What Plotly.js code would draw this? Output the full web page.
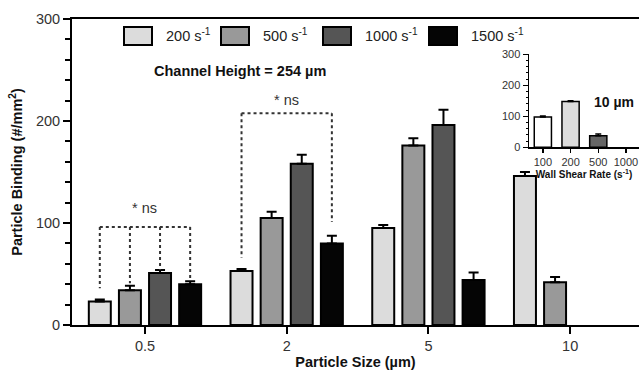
<!DOCTYPE html>
<html><head><meta charset="utf-8">
<script src="https://cdn.plot.ly/plotly-3.0.1.min.js"></script>
<style>html,body{margin:0;padding:0;background:#fff}#chart{width:639px;height:370px}</style>
</head><body><div id="chart"></div>
<script>
// ---- data ----
const particleSizes = ['0.5', '2', '5', '10'];
const seriesNames = ['200 s<sup>-1</sup>', '500 s<sup>-1</sup>', '1000 s<sup>-1</sup>', '1500 s<sup>-1</sup>'];
const binding200 = [23, 53, 95, 146];
const err200 = [2, 2, 3, 4];
const binding500 = [34, 105, 176, 42];
const err500 = [4.5, 6, 7, 5];
const binding1000 = [51, 158, 196, null];
const err1000 = [3, 9, 15, null];
const binding1500 = [40, 80, 44, null];
const err1500 = [3, 7.5, 7.5, null];
const seriesColors = ['#dcdcdc', '#999999', '#555555', '#050505'];

const insetRates = ['100', '200', '500', '1000'];
const insetBinding = [98, 148, 37, null];
const insetErr = [3, 2, 6, null];
const insetColors = ['#ffffff', '#dcdcdc', '#666666', '#666666'];

// ---- build ----
const FONT = 'Liberation Sans, Arial, Helvetica, sans-serif';
const bargap = 0.15, bargroupgap = 0.27;
const values = [binding200, binding500, binding1000, binding1500];
const errs = [err200, err500, err1000, err1500];

const traces = values.map((v, i) => ({
  type: 'bar', x: particleSizes, y: v, name: seriesNames[i],
  xaxis: 'x', yaxis: 'y', showlegend: false,
  marker: {color: seriesColors[i], line: {color: '#000', width: 2}},
  error_y: {type: 'data', symmetric: false, array: errs[i], arrayminus: errs[i].map(() => 0),
            color: '#000', thickness: 2, width: 5}
}));
traces.push({
  type: 'bar', x: insetRates, y: insetBinding, xaxis: 'x2', yaxis: 'y2', showlegend: false,
  marker: {color: insetColors, line: {color: '#000', width: 1.5}},
  error_y: {type: 'data', symmetric: false, array: insetErr, arrayminus: insetErr.map(() => 0),
            color: '#000', thickness: 1.5, width: 3}
});

// bar centre offsets within a group
const slot = (1 - bargap) / values.length;
const offs = values.map((_, i) => -(1 - bargap) / 2 + slot * (i + 0.5));

const dot = {color: '#333', width: 2, dash: 'dot'};
const shapes = [];
function bracket(g, top, bottoms) {
  const xs = bottoms.map(b => g + offs[b[0]]);
  shapes.push({type: 'line', xref: 'x', yref: 'y', x0: xs[0], x1: xs[xs.length - 1], y0: top, y1: top, line: dot});
  bottoms.forEach((b, k) => shapes.push({type: 'line', xref: 'x', yref: 'y', x0: xs[k], x1: xs[k], y0: top, y1: b[1], line: dot}));
}
bracket(0, 96, [[0, 36], [1, 41], [2, 54], [3, 44]]);
bracket(1, 207.5, [[0, 66], [3, 101]]);

const annotations = [
  {xref: 'x', yref: 'y', x: 0, y: 115, text: '* ns', showarrow: false, xanchor: 'center', yanchor: 'middle',
   font: {family: FONT, size: 14.5, color: '#333'}},
  {xref: 'x', yref: 'y', x: 1, y: 221, text: '* ns', showarrow: false, xanchor: 'center', yanchor: 'middle',
   font: {family: FONT, size: 14.5, color: '#333'}},
  {xref: 'paper', yref: 'paper', x: 0.296, y: 0.830, text: '<b>Channel Height = 254 µm</b>', showarrow: false,
   xanchor: 'center', yanchor: 'middle', font: {family: FONT, size: 14.5, color: '#111'}},
  {xref: 'paper', yref: 'paper', x: 0.956, y: 0.729, text: '<b>10 µm</b>', showarrow: false,
   xanchor: 'center', yanchor: 'middle', font: {family: FONT, size: 14, color: '#111'}}
];

// legend drawn as boxes + labels
const legX = [124, 221, 323, 429];
seriesNames.forEach((n, i) => {
  const x0 = (legX[i] - 72) / 567;
  shapes.push({type: 'rect', xref: 'paper', yref: 'paper', x0: x0, x1: x0 + 28 / 567,
    y0: (325 - 45) / 306, y1: (325 - 27) / 306, fillcolor: seriesColors[i], line: {color: '#000', width: 2}});
  annotations.push({xref: 'paper', yref: 'paper', x: x0 + 40 / 567, y: (325 - 35) / 306, xanchor: 'left', yanchor: 'middle',
    text: n, showarrow: false, font: {family: FONT, size: 14.5, color: '#222'}});
});

const layout = {
  width: 639, height: 370,
  margin: {l: 72, r: 0, t: 19, b: 45},
  paper_bgcolor: '#fff', plot_bgcolor: 'rgba(0,0,0,0)',
  barmode: 'group', bargap: bargap, bargroupgap: bargroupgap,
  font: {family: FONT, color: '#333'},
  xaxis: {type: 'category', range: [-0.515, 3.486], showgrid: false, zeroline: false,
    showline: true, linecolor: '#000', linewidth: 2, mirror: true,
    ticks: 'outside', ticklen: 7, tickwidth: 2, tickcolor: '#000',
    tickfont: {family: FONT, size: 14.5, color: '#333'},
    title: {text: '<b>Particle Size (µm)</b>', font: {family: FONT, size: 14.5, color: '#111'}, standoff: 3}},
  yaxis: {range: [0, 300], showgrid: false, zeroline: false, dtick: 100,
    showline: true, linecolor: '#000', linewidth: 2,
    ticks: 'outside', ticklen: 7, tickwidth: 2, tickcolor: '#000',
    minor: {dtick: 20, ticks: 'outside', ticklen: 5, tickwidth: 2, tickcolor: '#000'},
    tickfont: {family: FONT, size: 14.5, color: '#333'},
    title: {text: '<b>Particle Binding (#/mm<sup>2</sup>)</b>', font: {family: FONT, size: 14.5, color: '#111'}, standoff: 10}},
  xaxis2: {type: 'category', domain: [0.806, 1.0], anchor: 'y2', range: [-0.5, 3.47],
    showgrid: false, zeroline: false, showline: true, linecolor: '#000', linewidth: 1.5,
    ticks: 'outside', ticklen: 4, tickwidth: 1.5, tickcolor: '#000',
    tickfont: {family: FONT, size: 11, color: '#333'},
    title: {text: '<b>Wall Shear Rate (s<sup>-1</sup>)</b>', font: {family: FONT, size: 10, color: '#111'}, standoff: 2}},
  yaxis2: {domain: [0.5807, 0.8846], anchor: 'x2', range: [0, 300], dtick: 100,
    showgrid: false, zeroline: false, showline: true, linecolor: '#000', linewidth: 1.5,
    ticks: 'outside', ticklen: 5, tickwidth: 1.5, tickcolor: '#000',
    minor: {dtick: 20, ticks: 'outside', ticklen: 2, tickwidth: 1, tickcolor: '#000'},
    tickfont: {family: FONT, size: 11, color: '#333'}},
  shapes: shapes,
  annotations: annotations
};

Plotly.newPlot('chart', traces, layout, {displayModeBar: false, staticPlot: true});
</script></body></html>
